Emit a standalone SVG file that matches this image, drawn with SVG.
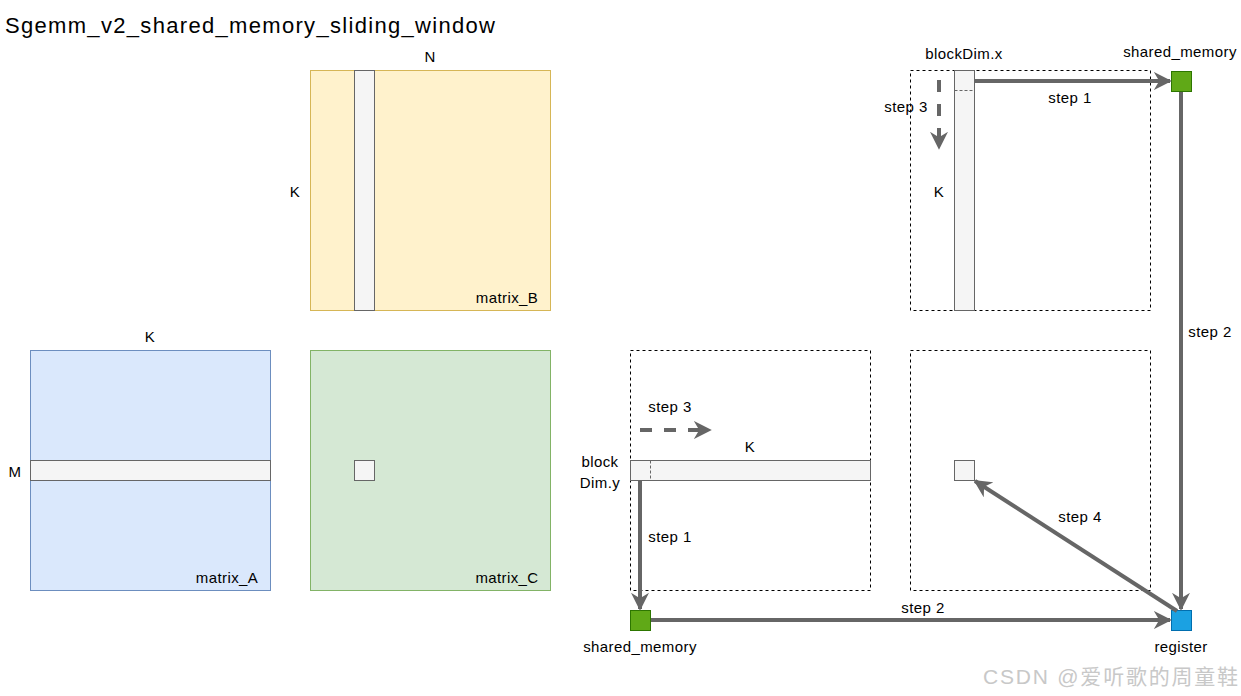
<svg xmlns="http://www.w3.org/2000/svg" width="1241" height="696" viewBox="0 0 1241 696">
<style>
text{font-family:"Comic Sans MS","Liberation Sans",sans-serif;font-size:15px;letter-spacing:0.4px;fill:#000;text-anchor:middle}
.dash{fill:none;stroke:#000;stroke-width:1;stroke-dasharray:3,3}
.strip{fill:#f5f5f5;stroke:#666;stroke-width:1}
.conn{stroke:#666;stroke-width:4;fill:none}
.dconn{stroke:#666;stroke-width:4;fill:none;stroke-dasharray:12,12}
</style>
<defs>
<marker id="ah" viewBox="0 0 10 10" refX="9" refY="5" markerWidth="4.5" markerHeight="4.5" markerUnits="strokeWidth" orient="auto">
<path d="M0,0 L10,5 L0,10 L3,5 Z" fill="#666"/>
</marker>
</defs>
<rect width="1241" height="696" fill="#fff"/>
<text x="5" y="33" textLength="490" style="font-size:22px;text-anchor:start;letter-spacing:0">Sgemm_v2_shared_memory_sliding_window</text>

<g id="matrix_B">
<rect x="310.5" y="70.5" width="240" height="240" fill="#fff2cc" stroke="#d6b656"/>
<rect class="strip" x="354.5" y="70.5" width="20" height="240"/>
<text x="430" y="62">N</text>
<text x="295" y="197">K</text>
<text x="507" y="303">matrix_B</text>
</g>

<g id="matrix_A">
<rect x="30.5" y="350.5" width="240" height="240" fill="#dae8fc" stroke="#6c8ebf"/>
<rect class="strip" x="30.5" y="460.5" width="240" height="20"/>
<text x="150" y="342">K</text>
<text x="15" y="477">M</text>
<text x="227" y="583">matrix_A</text>
</g>

<g id="matrix_C">
<rect x="310.5" y="350.5" width="240" height="240" fill="#d5e8d4" stroke="#82b366"/>
<rect class="strip" x="354.5" y="460.5" width="20" height="20"/>
<text x="507" y="583">matrix_C</text>
</g>

<g id="tile_B">
<rect class="dash" x="910.5" y="70.5" width="240" height="240"/>
<rect class="strip" x="954.5" y="70.5" width="20" height="240"/>
<line x1="954.5" y1="90.5" x2="974.5" y2="90.5" stroke="#666" stroke-dasharray="3,2"/>
<text x="964" y="59">blockDim.x</text>
<text x="939" y="197">K</text>
</g>

<g id="tile_A">
<rect class="dash" x="630.5" y="350.5" width="240" height="240"/>
<rect class="strip" x="630.5" y="460.5" width="240" height="20"/>
<line x1="650.5" y1="460.5" x2="650.5" y2="480.5" stroke="#666" stroke-dasharray="3,2"/>
<text x="600" y="467">block</text>
<text x="600" y="488">Dim.y</text>
<text x="750" y="452">K</text>
</g>

<g id="tile_C">
<rect class="dash" x="910.5" y="350.5" width="240" height="240"/>
<rect class="strip" x="954.5" y="460.5" width="20" height="20"/>
</g>

<g id="shared_memory_B">
<rect x="1171.5" y="71.5" width="20" height="20" fill="#60a917" stroke="#2d7600"/>
<text x="1180" y="57">shared_memory</text>
</g>

<g id="shared_memory_A">
<rect x="630.5" y="610.5" width="20" height="20" fill="#60a917" stroke="#2d7600"/>
<text x="640" y="652">shared_memory</text>
</g>

<g id="register">
<rect x="1171.5" y="610.5" width="20" height="20" fill="#1ba1e2" stroke="#006eaf"/>
<text x="1181" y="652">register</text>
</g>

<g id="connectors">
<line class="conn" x1="975" y1="81" x2="1170" y2="81" marker-end="url(#ah)"/>
<text x="1070" y="103">step 1</text>
<line class="dconn" x1="939" y1="80" x2="939" y2="148" marker-end="url(#ah)"/>
<text x="906" y="112">step 3</text>
<line class="conn" x1="1181" y1="92" x2="1181" y2="609" marker-end="url(#ah)"/>
<text x="1210" y="337">step 2</text>
<line class="dconn" x1="640" y1="430" x2="710" y2="430" marker-end="url(#ah)"/>
<text x="670" y="412">step 3</text>
<line class="conn" x1="640" y1="481" x2="640" y2="609" marker-end="url(#ah)"/>
<text x="670" y="542">step 1</text>
<line class="conn" x1="651" y1="620" x2="1170" y2="620" marker-end="url(#ah)"/>
<text x="923" y="613">step 2</text>
<line class="conn" x1="1177" y1="611" x2="975" y2="481" marker-end="url(#ah)"/>
<text x="1080" y="522">step 4</text>
</g>

<text x="983" y="684" textLength="255" style="font-family:'Liberation Sans','Noto Sans CJK SC',sans-serif;font-size:21px;letter-spacing:0;fill:#c8c8c8;text-anchor:start">CSDN @爱听歌的周童鞋</text>
</svg>
